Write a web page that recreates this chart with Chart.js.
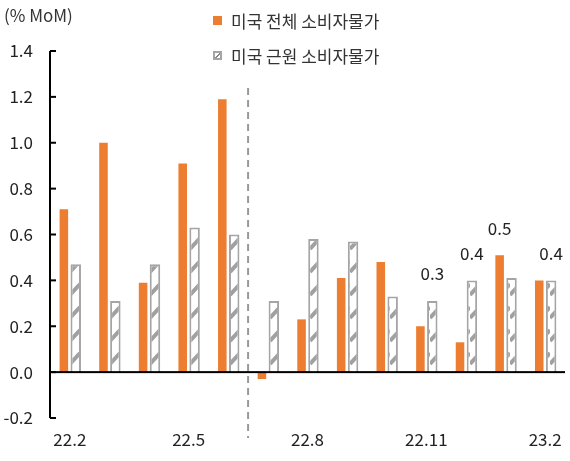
<!DOCTYPE html>
<html>
<head>
<meta charset="utf-8">
<script src="https://cdn.jsdelivr.net/npm/chart.js@4.4.1/dist/chart.umd.min.js"></script>
<style>
  body { margin: 0; background: #fff; font-family: "Noto Sans CJK KR", "Noto Sans", sans-serif; }
  #wrap { position: relative; width: 570px; height: 461px; }
  #unit { position: absolute; left: 4px; top: 2px; font-size: 17px; color: #333; }
  .leg { position: absolute; left: 213px; font-size: 17px; color: #333; display: flex; align-items: center; }
  .box { width: 9px; height: 9px; margin-right: 9px; box-sizing: border-box; }
  .orange { background: #ED7D31; }
  .hatch { border: 2px solid #A5A5A5; background: linear-gradient(135deg, #fff 45%, #888 45%, #888 70%, #fff 70%); }
</style>
</head>
<body>
<div id="wrap">
  <canvas id="myChart" width="570" height="461"></canvas>
  <div id="unit">(% MoM)</div>
  <div class="leg" style="top:8px"><span class="box orange"></span>미국 전체 소비자물가</div>
  <div class="leg" style="top:43px"><span class="box hatch"></span>미국 근원 소비자물가</div>
</div>
<script>
// 월별 데이터
const months = ['22.2', '22.3', '22.4', '22.5', '22.6', '22.7', '22.8', '22.9', '22.10', '22.11', '22.12', '23.1', '23.2'];
const headline = [0.71, 1.00, 0.39, 0.91, 1.19, -0.03, 0.23, 0.41, 0.48, 0.20, 0.13, 0.51, 0.40];
const core = [0.47, 0.31, 0.47, 0.63, 0.60, 0.31, 0.58, 0.57, 0.33, 0.31, 0.40, 0.41, 0.40];
// 막대 위 표시 값
const headlineLabels = [null, null, null, null, null, null, null, null, null, null, null, '0.5', null];
const coreLabels = [null, null, null, null, null, null, null, null, null, '0.3', '0.4', null, '0.4'];
const shownTicks = ['22.2', '22.5', '22.8', '22.11', '23.2'];
const yTicks = [-0.2, 0.0, 0.2, 0.4, 0.6, 0.8, 1.0, 1.2, 1.4];
const FONT = '"Noto Sans CJK KR", "Noto Sans", sans-serif';

// 빗금 패턴
function makeHatch() {
    const c = document.createElement('canvas');
    c.width = 10;
    c.height = 23;
    const g = c.getContext('2d');
    g.fillStyle = '#fff';
    g.fillRect(0, 0, 10, 23);
    g.strokeStyle = '#A0A0A0';
    g.lineWidth = 4;
    g.beginPath();
    g.moveTo(0, 19);
    g.lineTo(10, 8);
    g.stroke();
    return g.createPattern(c, 'repeat');
}

const extras = {
    id: 'extras',
    afterDraw(chart) {
        const ctx = chart.ctx;
        const area = chart.chartArea;
        const x = chart.scales.x;
        const y = chart.scales.y;
        ctx.save();
        // 축 라벨
        ctx.fillStyle = '#222';
        ctx.font = '17px ' + FONT;
        ctx.textBaseline = 'middle';
        ctx.textAlign = 'right';
        yTicks.forEach(v => {
            ctx.fillText(v.toFixed(1), area.left - 17, y.getPixelForValue(v));
        });
        ctx.textAlign = 'center';
        months.forEach((m, i) => {
            if (!shownTicks.includes(m)) return;
            ctx.fillText(m, x.getPixelForTick(i), area.bottom + 22);
        });
        // 값 라벨
        [headlineLabels, coreLabels].forEach((labels, d) => {
            const meta = chart.getDatasetMeta(d);
            labels.forEach((t, i) => {
                if (t == null) return;
                const bar = meta.data[i];
                ctx.fillText(t, bar.x, bar.y - 27);
            });
        });
        // 점선 구분선
        const dx = (x.getPixelForTick(4) + x.getPixelForTick(5)) / 2;
        ctx.strokeStyle = '#999';
        ctx.lineWidth = 2;
        ctx.setLineDash([7, 5]);
        ctx.beginPath();
        ctx.moveTo(dx, area.top + 37);
        ctx.lineTo(dx, area.bottom + 20);
        ctx.stroke();
        ctx.setLineDash([]);
        // 0 기준선, y축 선과 안쪽 눈금
        ctx.fillStyle = '#000';
        const y0 = y.getPixelForValue(0);
        ctx.fillRect(area.left, y0 - 1, area.right - area.left, 2);
        const yt = y.getPixelForValue(yTicks[yTicks.length - 1]);
        const yb = y.getPixelForValue(yTicks[0]);
        ctx.fillRect(area.left - 1, yt, 2, yb - yt);
        yTicks.forEach(v => {
            ctx.fillRect(area.left, y.getPixelForValue(v) - 1, 6, 2);
        });
        ctx.restore();
    }
};

new Chart(document.getElementById('myChart').getContext('2d'), {
    type: 'bar',
    data: {
        labels: months,
        datasets: [{
            label: '미국 전체 소비자물가',
            data: headline,
            backgroundColor: '#ED7D31',
            borderWidth: 0,
            barPercentage: 0.72,
            categoryPercentage: 0.6
        }, {
            label: '미국 근원 소비자물가',
            data: core,
            backgroundColor: makeHatch(),
            borderColor: '#A5A5A5',
            borderWidth: 2,
            barPercentage: 0.88,
            categoryPercentage: 0.6
        }]
    },
    options: {
        responsive: false,
        animation: false,
        layout: { padding: { top: 51, right: 5, bottom: 10, left: 0 } },
        plugins: {
            legend: { display: false },
            tooltip: { enabled: false }
        },
        scales: {
            x: {
                afterFit: function (s) { s.height = 33; },
                grid: { display: false, drawTicks: false },
                border: { display: false },
                ticks: { display: false }
            },
            y: {
                min: -0.2,
                max: 1.4,
                afterFit: function (s) { s.width = 50; },
                border: { display: false },
                grid: { display: false, drawTicks: false },
                ticks: { display: false, stepSize: 0.2 }
            }
        }
    },
    plugins: [extras]
});
</script>
</body>
</html>
